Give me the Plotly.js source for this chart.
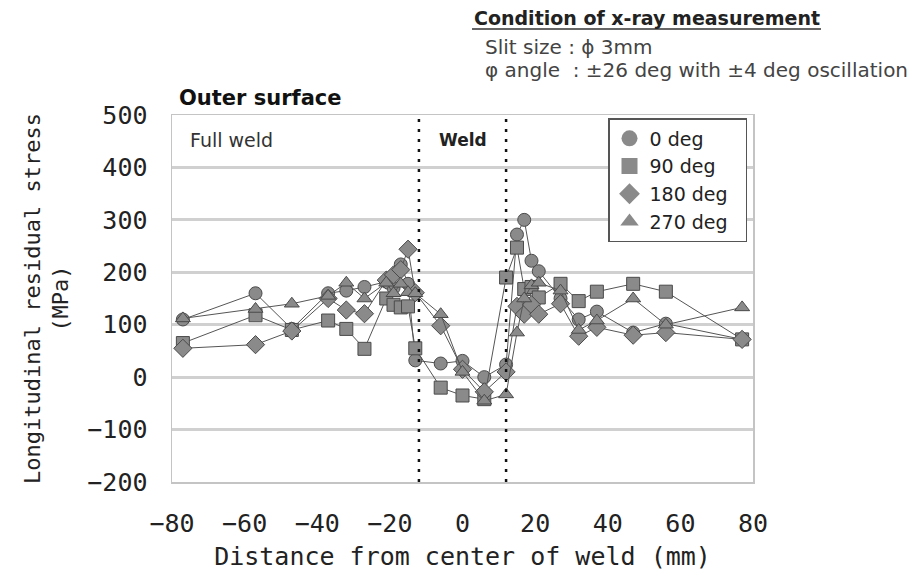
<!DOCTYPE html>
<html>
<head>
<meta charset="utf-8">
<script src="https://cdn.plot.ly/plotly-3.0.1.min.js"></script>
<style>
  html, body { margin: 0; padding: 0; background: #fff; }
  #chart { width: 924px; height: 587px; }
</style>
</head>
<body>
<div id="chart"></div>
<script>
// Distance from weld centre (mm) for each measuring position
const distance = [-77, -57, -47, -37, -32, -27, -21, -19, -17, -15, -13, -6, 0, 6, 12, 15, 17, 19, 21, 27, 32, 37, 47, 56, 77];

// Longitudinal residual stress (MPa) per circumferential position
const stress0 = [110, 160, 92, 160, 165, 172, 182, 170, 215, 178, 32, 26, 31, 0, 24, 272, 300, 222, 202, 150, 110, 125, 85, 102, 72];
const stress90 = [65, 118, 90, 108, 92, 54, 150, 138, 133, 135, 55, -20, -35, -42, 190, 247, 168, 172, 152, 178, 145, 163, 178, 163, 72];
const stress180 = [55, 62, 88, 150, 128, 121, 185, 195, 205, 244, 161, 98, 15, -28, 10, 135, 120, 138, 120, 140, 78, 95, 80, 85, 72];
const stress270 = [112, 130, 140, 155, 180, 150, 180, 160, 178, 162, 160, 120, 10, -45, -33, 85, 150, 175, 180, 165, 90, 108, 150, 100, 133];

const seriesNames = ['0 deg', '90 deg', '180 deg', '270 deg'];
const seriesSymbols = ['circle', 'square', 'diamond', 'triangle-up'];
const seriesValues = [stress0, stress90, stress180, stress270];

// Boundaries of the weld zone (mm)
const weldEdges = [-12, 12];

const yTicks = [-200, -100, 0, 100, 200, 300, 400, 500];
const xTicks = [-80, -60, -40, -20, 0, 20, 40, 60, 80];

const markerFill = '#8a8a8a';
const markerEdge = '#4a4a4a';

const traces = [];
seriesValues.forEach((vals, i) => {
  traces.push({
    x: distance, y: vals, type: 'scatter', mode: 'lines+markers',
    name: seriesNames[i], showlegend: false,
    line: { color: '#555', width: 1 },
    marker: { symbol: seriesSymbols[i], size: i === 2 ? 14 : 13, color: markerFill,
              line: { color: markerEdge, width: 1 } },
    hoverinfo: 'x+y'
  });
});
// legend entries: marker symbols only
seriesValues.forEach((vals, i) => {
  traces.push({
    x: [null], y: [null], type: 'scatter', mode: 'markers',
    name: seriesNames[i] + '  ', showlegend: true,
    marker: { symbol: seriesSymbols[i], size: 16, color: markerFill, line: { width: 0 } }
  });
});

// plot-area pixel box, used to place the free text
const L = 172, R = 753, T = 115, B = 482;
const W = 924, H = 587;
const px = (p) => (p - L) / (R - L);
const py = (p) => (B - p) / (B - T);

const shapes = weldEdges.map(xv => ({
  type: 'line', xref: 'x', yref: 'paper', x0: xv, x1: xv, y0: 0, y1: 1,
  line: { color: '#111', width: 2.5, dash: '3px,7px' }
}));
// underline of the measurement-condition heading
shapes.push({ type: 'line', xref: 'paper', yref: 'paper',
  x0: px(472), x1: px(821), y0: py(29), y1: py(29), line: { color: '#333', width: 1.5 } });

const annotations = [
  { text: '<b>Outer surface</b>', x: px(177), y: py(98), xanchor: 'left', yanchor: 'middle',
    font: { family: 'DejaVu Sans', size: 21, color: '#111' } },
  { text: 'Full weld', x: px(188), y: py(140), xanchor: 'left', yanchor: 'middle',
    font: { family: 'DejaVu Sans', size: 19, color: '#333' } },
  { text: '<b>Weld</b>', x: px(463), y: py(140), xanchor: 'center', yanchor: 'middle',
    font: { family: 'DejaVu Sans', size: 17, color: '#222' } },
  { text: '<b>Condition of x-ray measurement</b>', x: px(472), y: py(18), xanchor: 'left', yanchor: 'middle',
    font: { family: 'DejaVu Sans', size: 19, color: '#222' } },
  { text: 'Slit size : ϕ 3mm', x: px(483), y: py(47), xanchor: 'left', yanchor: 'middle',
    font: { family: 'DejaVu Sans', size: 20, color: '#444' } },
  { text: 'φ angle  : ±26 deg with ±4 deg oscillation', x: px(483), y: py(70), xanchor: 'left', yanchor: 'middle',
    font: { family: 'DejaVu Sans', size: 20, color: '#444' } }
].map(a => Object.assign({ xref: 'paper', yref: 'paper', showarrow: false }, a));

const layout = {
  width: W, height: H,
  margin: { l: L, r: W - R, t: T, b: H - B, pad: 0 },
  paper_bgcolor: '#fff', plot_bgcolor: '#fff',
  showlegend: true,
  legend: {
    x: px(608), y: py(118), xanchor: 'left', yanchor: 'top',
    bgcolor: '#fff', bordercolor: '#555', borderwidth: 1.5,
    font: { family: 'DejaVu Sans', size: 19, color: '#222' },
    itemsizing: 'trace', tracegroupgap: 0
  },
  xaxis: {
    range: [-80, 80], tickvals: xTicks, ticktext: xTicks.map(v => v < 0 ? '\u2212' + Math.abs(v) : String(v)),
    showgrid: false, zeroline: false, ticks: '',
    showline: true, mirror: true, linecolor: '#c4c4c4', linewidth: 1.5,
    ticklabelstandoff: 18,
    tickfont: { family: 'DejaVu Sans Mono', size: 25, color: '#222' },
    title: { text: 'Distance from center of weld (mm)', standoff: 11,
             font: { family: 'DejaVu Sans Mono', size: 25, color: '#222' } }
  },
  yaxis: {
    range: [-200, 500], tickvals: yTicks, ticktext: yTicks.map(v => v < 0 ? '\u2212' + Math.abs(v) : String(v)),
    showgrid: true, gridcolor: '#d0d0d0', gridwidth: 3, zeroline: false, ticks: '',
    showline: true, mirror: true, linecolor: '#c4c4c4', linewidth: 1.5,
    ticklabelstandoff: 18,
    tickfont: { family: 'DejaVu Sans Mono', size: 25, color: '#222' },
    title: { text: 'Longitudinal residual stress<br>(MPa)', standoff: 12,
             font: { family: 'DejaVu Sans Mono', size: 22, color: '#222' } }
  },
  shapes: shapes,
  annotations: annotations
};

Plotly.newPlot('chart', traces, layout, { displayModeBar: false, staticPlot: true });
</script>
</body>
</html>
